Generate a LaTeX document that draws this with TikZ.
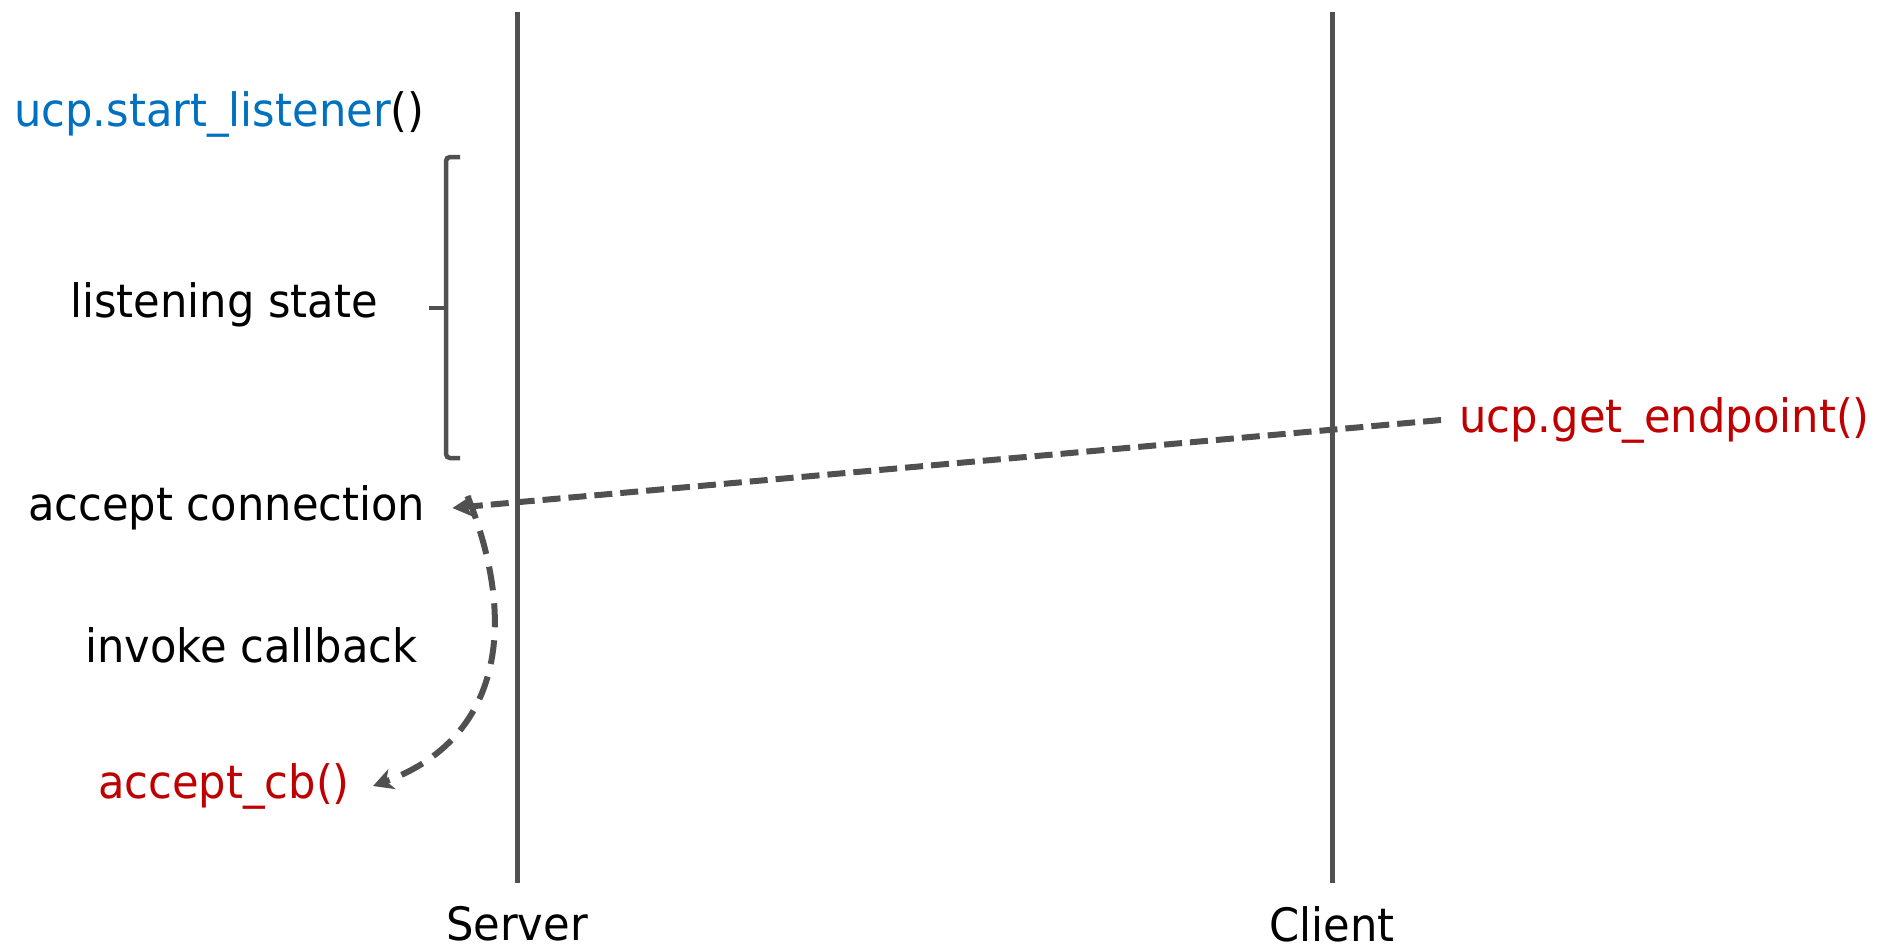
\documentclass[tikz,border=0pt]{standalone}
\usepackage{fontspec}
\setmainfont[FakeStretch=0.94]{DejaVu Sans}
\usepackage{tikz}
\usetikzlibrary{positioning}
\usetikzlibrary{calc}
\usetikzlibrary{arrows.meta}
\definecolor{linegray}{HTML}{505050}
\definecolor{ucpblue}{HTML}{0070C0}
\definecolor{ucpred}{HTML}{C00000}

\begin{document}
\begin{tikzpicture}[x=1pt, y=-1pt,
        every node/.style={inner sep=0pt, font=\fontsize{46}{55}\selectfont},
        lifeline/.style={draw=linegray, line width=5pt},
        bracketline/.style={draw=linegray, line width=4.5pt, rounded corners=4pt},
        msg/.style={draw=linegray, line width=6pt, dash pattern=on 18pt off 8pt,
                    -{Stealth[length=20pt, width=21pt, inset=6pt]}},
        callmsg/.style={draw=linegray, line width=6pt, dash pattern=on 24pt off 13pt,
                    -{Stealth[length=20pt, width=21pt, inset=6pt]}}]
    \useasboundingbox (0,0) rectangle (1879,948);
    \coordinate (srvtop) at (517,12);
    \coordinate (srvbot) at (517,883);
    \coordinate (clitop) at (1332,12);
    \coordinate (clibot) at (1332,883);
    \draw[lifeline] (srvtop) -- (srvbot);
    \draw[lifeline] (clitop) -- (clibot);
    \node (server) at (517,924) {Server};
    \node (client) at (1332,924) {Client};

    \node[anchor=west] (start) at (14,114) {\textcolor{ucpblue}{ucp.start\_listener}()};
    \node (listen) at (224,305) {listening state};
    \node[anchor=west] (accept) at (28,508) {accept connection};
    \node[anchor=west] (invoke) at (85,645) {invoke callback};
    \node[anchor=west, text=ucpred] (acceptcb) at (98,786) {accept\_cb()};
    \node[anchor=west, text=ucpred] (getep) at (1459,420) {ucp.get\_endpoint()};

    \coordinate (brtop) at (460,157);
    \coordinate (brbot) at (460,458);
    \coordinate (brtick) at (429,308);
    \draw[bracketline] (brtop) -- (446,157) -- (446,458) -- (brbot);
    \draw[bracketline] (brtick) -- (446,308);

    \draw[msg] ([xshift=-18pt]getep.west) -- ([xshift=27pt]accept.east);
    \draw[callmsg] ([xshift=42pt,yshift=12pt]accept.east) to[out=-68, in=20, looseness=1.15] ([xshift=23pt]acceptcb.east);
\end{tikzpicture}
\end{document}
